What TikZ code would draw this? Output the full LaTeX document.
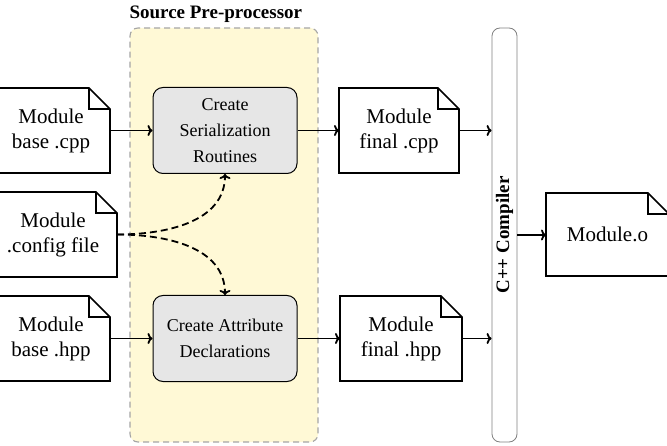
\documentclass[tikz,border=0pt]{standalone}
\usepackage{fontspec}
\setmainfont{Liberation Serif}
\usetikzlibrary{arrows.meta}

\definecolor{prepyellow}{RGB}{255,249,214}
\definecolor{boxgray}{RGB}{230,230,230}
\definecolor{edgegray}{RGB}{165,165,165}

\tikzset{
  docfile/.style={minimum height=85pt, inner sep=0pt, outer sep=0pt, align=center, font=\fontsize{21}{25}\selectfont},
  docline/.style={line width=1.7pt},
  procbox/.style={draw, fill=boxgray, rounded corners=10pt, line width=1pt, minimum width=144pt, minimum height=86pt, align=center, font=\fontsize{18}{26}\selectfont},
  flow/.style={-{To[length=5pt,width=11pt]}, line width=1.8pt},
  cfgflow/.style={-{To[length=5pt,width=11pt]}, line width=1.8pt, dash pattern=on 7pt off 4pt},
}

\begin{document}
\begin{tikzpicture}[x=1pt,y=1pt]
    \useasboundingbox (0,0) rectangle (667,445);

    % Pre-processor stage
    \node[draw=edgegray, fill=prepyellow, dash pattern=on 6pt off 4pt, line width=1.1pt, rounded corners=8pt, minimum width=188pt, minimum height=414pt, inner sep=0pt] (prep) at (224,210) {};
    \node[anchor=base west, font=\bfseries\fontsize{19}{22}\selectfont] (preptitle) at (126,426.5) {Source Pre-processor};

    % Files
    \node[docfile, minimum width=118pt] (basecpp) at (51,314.5) {Module\\base .cpp};
    \node[docfile, minimum width=128pt] (config) at (53,210.5) {Module\\.config file};
    \node[docfile, minimum width=118pt] (basehpp) at (51,106.5) {Module\\base .hpp};
    \node[docfile, minimum width=120pt] (finalcpp) at (399,314.5) {Module\\final .cpp};
    \node[docfile, minimum width=122pt] (finalhpp) at (401,106.5) {Module\\final .hpp};
    \node[docfile, minimum width=123pt, minimum height=83pt] (moduleo) at (607.5,210.5) {Module.o};

    % File outlines with folded corner
    \foreach \n in {basecpp,config,basehpp,finalcpp,finalhpp,moduleo} {
      \draw[docline] (\n.south west) -- (\n.south east) -- ([yshift=-21pt]\n.north east)
        -- ([xshift=-21pt]\n.north east) -- (\n.north west) -- cycle;
      \draw[docline] ([xshift=-21pt]\n.north east) |- ([yshift=-21pt]\n.north east);
    }

    % Pre-processor steps
    \node[procbox] (serial) at (225,314.5) {Create\\Serialization\\Routines};
    \node[procbox] (attrib) at (225,106.5) {Create Attribute\\Declarations};

    % Compiler
    \node[draw=gray, line width=0.8pt, fill=white, rounded corners=8pt, rotate=90, minimum width=414pt, minimum height=25pt, inner sep=0pt, font=\bfseries\fontsize{19}{22}\selectfont] (compiler) at (504.5,210) {C++ Compiler};

    % Connections
    \draw[flow] (basecpp.east) -- (serial.west);
    \draw[flow] (basehpp.east) -- (attrib.west);
    \draw[flow] (serial.east) -- (finalcpp.west);
    \draw[flow] (attrib.east) -- (finalhpp.west);
    \draw[flow] (finalcpp.east) -- (finalcpp.east -| compiler.north);
    \draw[flow] (finalhpp.east) -- (finalhpp.east -| compiler.north);
    \draw[flow] (compiler.south) -- (compiler.south -| moduleo.west);
    \draw[cfgflow] (config.east) to[out=0,in=-90] (serial.south);
    \draw[cfgflow] (config.east) to[out=0,in=90] (attrib.north);

\end{tikzpicture}
\end{document}
